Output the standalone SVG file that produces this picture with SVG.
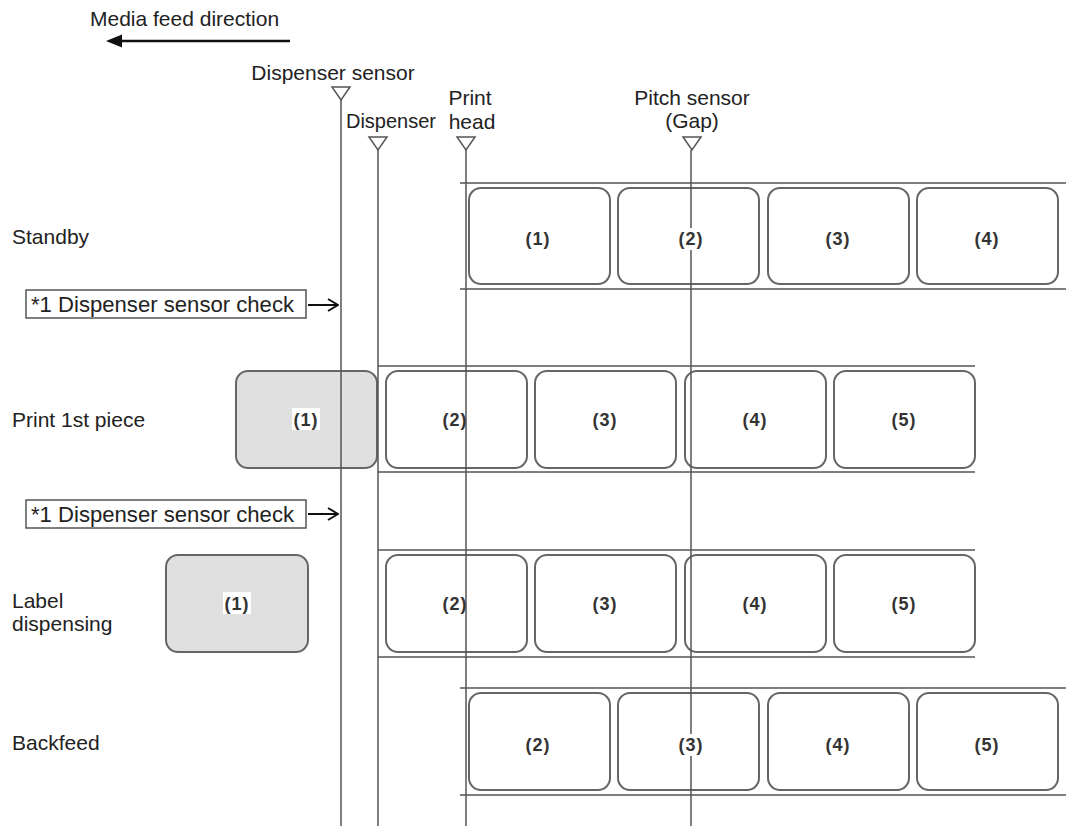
<svg xmlns="http://www.w3.org/2000/svg" width="1070" height="829" viewBox="0 0 1070 829">
<style>
text{font-family:"Liberation Sans",Arial,sans-serif;fill:#222}
.t{font-size:21px}
.n{font-size:18px;font-weight:bold;text-anchor:middle;fill:#333;letter-spacing:1px}
.lab{fill:none;stroke:#666;stroke-width:2}
.gray{fill:#e0e0e0;stroke:#666;stroke-width:2}
.liner{stroke:#555;stroke-width:1.5}
.v{stroke:#555;stroke-width:1.5;fill:none}
.tri{fill:#fff;stroke:#555;stroke-width:1.5}
.bg{fill:#fff}
.chk{font-size:22px}
</style>
<defs>
<marker id="open" markerWidth="12" markerHeight="14" refX="11" refY="7" orient="auto" markerUnits="userSpaceOnUse">
<path d="M1,1 L11,7 L1,13" fill="none" stroke="#111" stroke-width="2"/>
</marker>
</defs>
<rect width="1070" height="829" fill="#fff"/>

<g id="feed-direction">
<text class="t" x="90" y="26">Media feed direction</text>
<line x1="290" y1="41" x2="118" y2="41" stroke="#111" stroke-width="2.5"/>
<path d="M106,41 L122,34.5 L122,47.5 Z" fill="#111"/>
</g>

<g id="row-labels">
<text class="t" x="12" y="244">Standby</text>
<text class="t" x="12" y="427">Print 1st piece</text>
<text class="t" x="12" y="608">Label</text>
<text class="t" x="12" y="631">dispensing</text>
<text class="t" x="12" y="750">Backfeed</text>
</g>

<g id="standby">
<line class="liner" x1="460" y1="183" x2="1066" y2="183"/>
<line class="liner" x1="460" y1="289" x2="1066" y2="289"/>
<rect class="lab" x="469" y="188" width="141" height="96" rx="12"/>
<rect class="lab" x="618" y="188" width="141" height="96" rx="12"/>
<rect class="lab" x="768" y="188" width="141" height="96" rx="12"/>
<rect class="lab" x="917" y="188" width="141" height="96" rx="12"/>
</g>

<g id="print-1st">
<line class="liner" x1="378" y1="366" x2="975" y2="366"/>
<line class="liner" x1="378" y1="472" x2="975" y2="472"/>
<rect class="gray" x="236" y="371" width="141" height="97" rx="12"/>
<rect class="lab" x="386" y="371" width="141" height="97" rx="12"/>
<rect class="lab" x="535" y="371" width="141" height="97" rx="12"/>
<rect class="lab" x="685" y="371" width="141" height="97" rx="12"/>
<rect class="lab" x="834" y="371" width="141" height="97" rx="12"/>
</g>

<g id="label-dispensing">
<line class="liner" x1="378" y1="550" x2="975" y2="550"/>
<line class="liner" x1="378" y1="657" x2="975" y2="657"/>
<rect class="gray" x="166" y="555" width="142" height="97" rx="12"/>
<rect class="lab" x="386" y="555" width="141" height="97" rx="12"/>
<rect class="lab" x="535" y="555" width="141" height="97" rx="12"/>
<rect class="lab" x="685" y="555" width="141" height="97" rx="12"/>
<rect class="lab" x="834" y="555" width="141" height="97" rx="12"/>
</g>

<g id="backfeed">
<line class="liner" x1="460" y1="688" x2="1066" y2="688"/>
<line class="liner" x1="460" y1="795" x2="1066" y2="795"/>
<rect class="lab" x="469" y="693" width="141" height="97" rx="12"/>
<rect class="lab" x="618" y="693" width="141" height="97" rx="12"/>
<rect class="lab" x="768" y="693" width="141" height="97" rx="12"/>
<rect class="lab" x="917" y="693" width="141" height="97" rx="12"/>
</g>

<g id="connectors">
<line class="v" x1="341" y1="100" x2="341" y2="826"/>
<line class="v" x1="378" y1="150" x2="378" y2="826"/>
<line class="v" x1="466" y1="150" x2="466" y2="826"/>
<line class="v" x1="691" y1="150" x2="691" y2="826"/>
<line x1="308" y1="305" x2="338" y2="305" stroke="#111" stroke-width="2" marker-end="url(#open)"/>
<line x1="308" y1="514" x2="338" y2="514" stroke="#111" stroke-width="2" marker-end="url(#open)"/>
</g>

<g id="sensor-dispenser">
<text class="t" x="333" y="80" text-anchor="middle">Dispenser sensor</text>
<path class="tri" d="M332,87 L350,87 L341,100 Z"/>
</g>
<g id="sensor-disp">
<text class="t" x="391" y="128" text-anchor="middle" style="font-size:20px">Dispenser</text>
<path class="tri" d="M369,137 L387,137 L378,150 Z"/>
</g>
<g id="sensor-printhead">
<text class="t" x="470" y="105" text-anchor="middle">Print</text>
<text class="t" x="472" y="129" text-anchor="middle">head</text>
<path class="tri" d="M457,137 L475,137 L466,150 Z"/>
</g>
<g id="sensor-pitch">
<text class="t" x="692" y="105" text-anchor="middle">Pitch sensor</text>
<text class="t" x="692" y="128" text-anchor="middle">(Gap)</text>
<path class="tri" d="M683,137 L701,137 L692,150 Z"/>
</g>

<g id="check-1">
<rect x="26" y="290" width="280" height="28" fill="#fff" stroke="#555" stroke-width="1.5"/>
<text class="chk" x="31" y="312" textLength="263" lengthAdjust="spacingAndGlyphs">*1 Dispenser sensor check</text>
</g>
<g id="check-2">
<rect x="26" y="500" width="280" height="28" fill="#fff" stroke="#555" stroke-width="1.5"/>
<text class="chk" x="31" y="522" textLength="263" lengthAdjust="spacingAndGlyphs">*1 Dispenser sensor check</text>
</g>

<g id="label-texts">
<text class="n" x="538" y="245">(1)</text>
<rect class="bg" x="677" y="228" width="28" height="22"/>
<text class="n" x="691" y="245">(2)</text>
<text class="n" x="838" y="245">(3)</text>
<text class="n" x="987" y="245">(4)</text>

<rect class="bg" x="292" y="408" width="28" height="22"/>
<text class="n" x="306" y="426">(1)</text>
<text class="n" x="455" y="426">(2)</text>
<text class="n" x="605" y="426">(3)</text>
<text class="n" x="755" y="426">(4)</text>
<text class="n" x="904" y="426">(5)</text>

<rect class="bg" x="223" y="592" width="28" height="22"/>
<text class="n" x="237" y="610">(1)</text>
<text class="n" x="455" y="610">(2)</text>
<text class="n" x="605" y="610">(3)</text>
<text class="n" x="755" y="610">(4)</text>
<text class="n" x="904" y="610">(5)</text>

<text class="n" x="538" y="751">(2)</text>
<rect class="bg" x="677" y="734" width="28" height="22"/>
<text class="n" x="691" y="751">(3)</text>
<text class="n" x="838" y="751">(4)</text>
<text class="n" x="987" y="751">(5)</text>
</g>
</svg>
